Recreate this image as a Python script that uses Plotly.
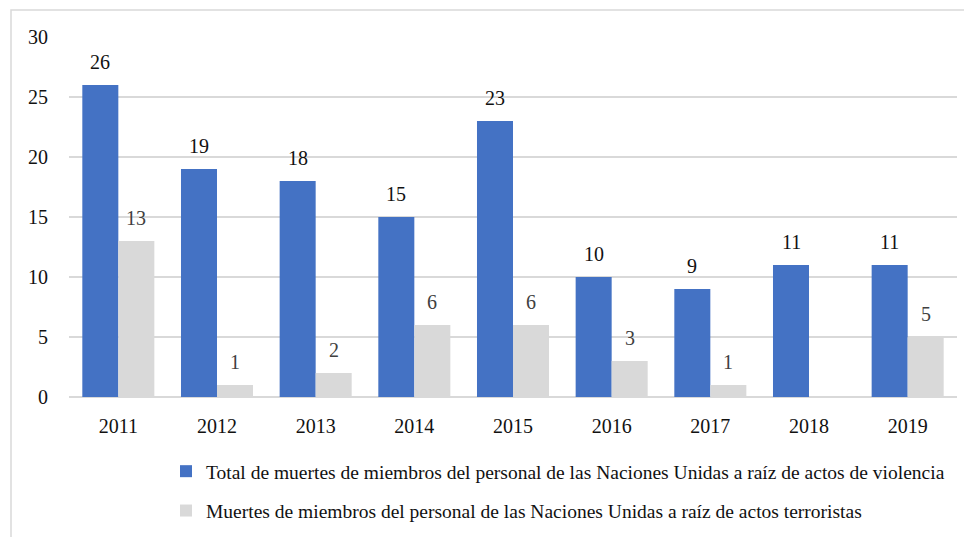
import plotly.graph_objects as go

years = ["2011", "2012", "2013", "2014", "2015", "2016", "2017", "2018", "2019"]
violence = [26, 19, 18, 15, 23, 10, 9, 11, 11]
terror = [13, 1, 2, 6, 6, 3, 1, None, 5]
name_violence = "Total de muertes de miembros del personal de las Naciones Unidas a raíz de actos de violencia"
name_terror = "Muertes de miembros del personal de las Naciones Unidas a raíz de actos terroristas"
y_ticks = [0, 5, 10, 15, 20, 25, 30]

FONT = "Liberation Serif, Times New Roman, serif"
BLUE = "#4472C4"
GRAY = "#D9D9D9"

W, H = 964, 545
L, R, T, B = 61, 15, 29, 156
PW, PH = W - L - R, H - T - B

fig = go.Figure()
fig.add_trace(go.Bar(x=years, y=violence, name=name_violence, marker_color=BLUE,
                     legendgroup="a", marker_line_width=0))
fig.add_trace(go.Bar(x=years, y=terror, name=name_terror, marker_color=GRAY,
                     legendgroup="b", marker_line_width=0))

annotations = []
# category axis: annotation x given as category index
for i, v in enumerate(violence):
    if v is not None:
        annotations.append(dict(x=i, y=v, xref="x", yref="y", text=str(v), showarrow=False,
                                xshift=-18, yanchor="bottom", yshift=10,
                                font=dict(family=FONT, size=20, color="#111111")))
for i, v in enumerate(terror):
    if v is not None:
        annotations.append(dict(x=i, y=v, xref="x", yref="y", text=str(v), showarrow=False,
                                xshift=18, yanchor="bottom", yshift=10,
                                font=dict(family=FONT, size=20, color="#404040")))

fig.update_layout(
    width=W, height=H,
    margin=dict(l=L, r=R, t=T, b=B),
    paper_bgcolor="white", plot_bgcolor="white",
    font=dict(family=FONT, size=20, color="#111111"),
    barmode="group", bargap=0.27, bargroupgap=0,
    showlegend=True,
    legend=dict(orientation="v", x=(158 - L) / PW, xanchor="left",
                y=-55 / PH, yanchor="top",
                font=dict(family=FONT, size=19.5, color="#111111"),
                tracegroupgap=11, traceorder="grouped", bgcolor="rgba(0,0,0,0)"),
    annotations=annotations,
    shapes=[dict(type="rect", xref="paper", yref="paper",
                 x0=(3 - L) / PW, x1=1.2, y0=-0.6, y1=1 + (T - 2) / PH,
                 line=dict(color="#D9D9D9", width=1.5), fillcolor="rgba(0,0,0,0)", layer="below")],
)
fig.update_xaxes(type="category", range=[-0.5, len(years) - 0.5], showgrid=False, showline=False,
                 ticks="outside", ticklen=11, tickcolor="rgba(0,0,0,0)",
                 tickfont=dict(family=FONT, size=20, color="#111111"))
fig.update_yaxes(range=[0, 30], tickvals=y_ticks, showgrid=True, gridcolor="#D9D9D9",
                 gridwidth=1.5, zeroline=True, zerolinecolor="#D9D9D9", zerolinewidth=1.5,
                 showline=False, ticks="outside", ticklen=16, tickcolor="rgba(0,0,0,0)",
                 tickfont=dict(family=FONT, size=20, color="#111111"))

fig.write_html("out.html")
